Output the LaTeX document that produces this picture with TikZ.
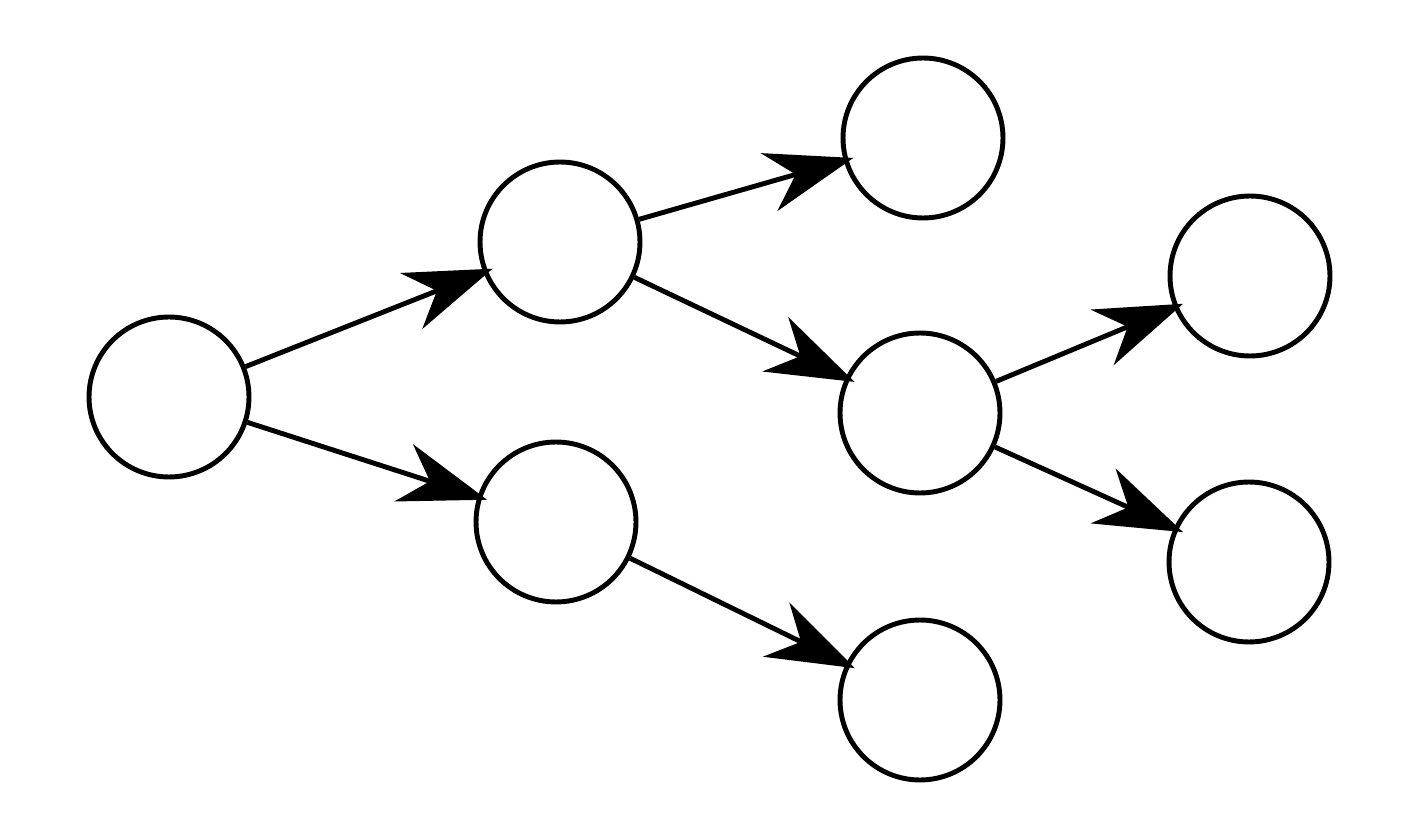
\documentclass[tikz,border=0pt]{standalone}
\usepackage{tikz}
\usetikzlibrary{arrows.meta,positioning}

\tikzset{
  treenode/.style={circle, draw, line width=2.8pt, minimum size=3.2cm, inner sep=0pt},
  treeedge/.style={line width=2.8pt, -{Stealth[length=1.75cm, width=1.2cm, inset=0.55cm]}, shorten >=-0.2cm}
}

\begin{document}
\begin{tikzpicture}[x=0.02cm, y=-0.02cm]
\useasboundingbox (0,0) rectangle (1417,827);
% tree: root -> two children, upper child splits again
\node[treenode] (root) at (169,397) {};
\node[treenode] (up) at (560,242) {};
\node[treenode] (low) at (556,522) {};
\node[treenode] (upup) at (923,138) {};
\node[treenode] (upmid) at (920,413) {};
\node[treenode] (lowleaf) at (920,700) {};
\node[treenode] (midtop) at (1250,276) {};
\node[treenode] (midbot) at (1249,562) {};
\foreach \a/\b in {root/up, root/low, up/upup, up/upmid, low/lowleaf, upmid/midtop, upmid/midbot} {
    \draw[treeedge] (\a) -- (\b);
}
\end{tikzpicture}
\end{document}
